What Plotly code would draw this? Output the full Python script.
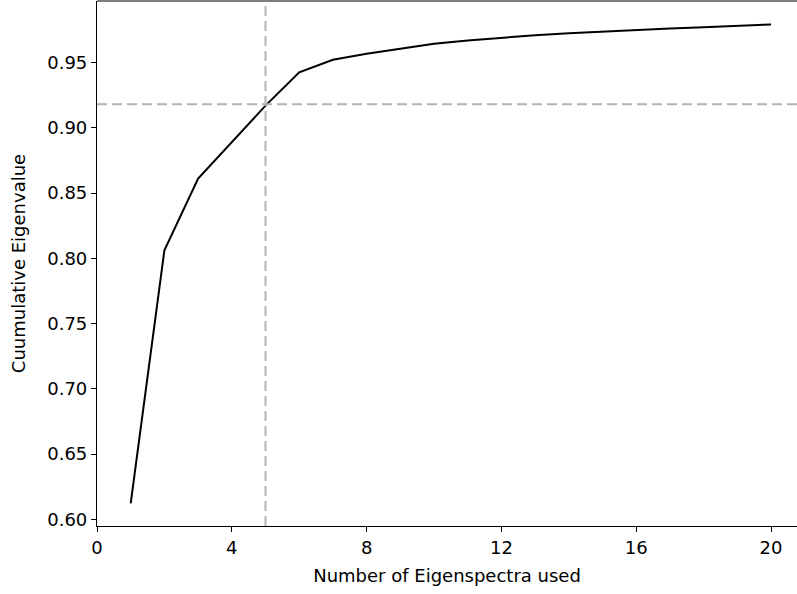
import plotly.graph_objects as go

n_eigen = list(range(1, 21))
cum_eigen = [0.6123, 0.8062, 0.8611, 0.8891, 0.9170, 0.9425, 0.9522, 0.9568, 0.9607, 0.9645,
             0.9670, 0.9691, 0.9710, 0.9725, 0.9738, 0.9750, 0.9761, 0.9771, 0.9781, 0.9792]
vline_x = 5
hline_y = 0.918
x_ticks = [0, 4, 8, 12, 16, 20]
y_ticks = [0.60, 0.65, 0.70, 0.75, 0.80, 0.85, 0.90, 0.95]

font = dict(family="DejaVu Sans", size=18, color="#000000")

fig = go.Figure()
fig.add_trace(go.Scatter(x=n_eigen, y=cum_eigen, mode="lines",
                         line=dict(color="black", width=2), showlegend=False))
fig.add_shape(type="line", xref="x", yref="paper", x0=vline_x, x1=vline_x, y0=0, y1=1,
              line=dict(color="#b3b3b3", width=2, dash="10px,5px"))
fig.add_shape(type="line", xref="paper", yref="y", x0=0, x1=1, y0=hline_y, y1=hline_y,
              line=dict(color="#b3b3b3", width=2, dash="10px,5px"))
fig.add_shape(type="line", xref="paper", yref="paper", x0=0, x1=1.01, y0=1, y1=1,
              line=dict(color="black", width=1.2))

fig.update_layout(
    width=797, height=594,
    margin=dict(l=97, r=0, t=1, b=68),
    plot_bgcolor="white", paper_bgcolor="white",
    font=font,
    xaxis=dict(range=[0, 20.77], tickvals=x_ticks, ticktext=[str(v) for v in x_ticks],
               showgrid=False, zeroline=False, showline=True, linecolor="black", linewidth=1.2,
               ticks="outside", ticklen=5, tickcolor="black",
               title=dict(text="Number of Eigenspectra used", standoff=12, font=font)),
    yaxis=dict(range=[0.5949, 0.9972], tickvals=y_ticks, ticktext=[f"{v:.2f}" for v in y_ticks],
               showgrid=False, zeroline=False, showline=True, linecolor="black", linewidth=1.2,
               ticks="outside", ticklen=5, tickcolor="black",
               title=dict(text="Cuumulative Eigenvalue", standoff=16, font=font)),
)
fig.write_html("out.html", config={"displayModeBar": False},
               post_script="document.body.style.margin='0';document.body.style.overflow='hidden';")
